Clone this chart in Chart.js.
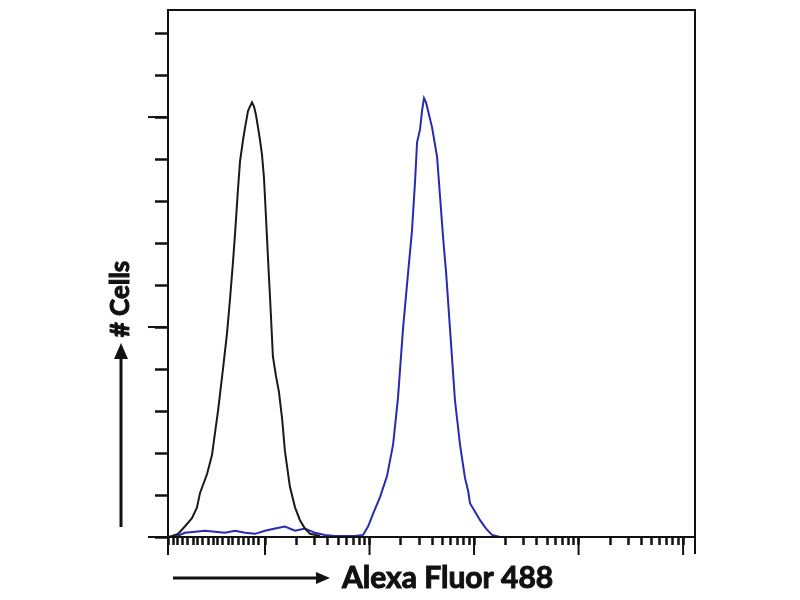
<!DOCTYPE html>
<html>
<head>
<meta charset="utf-8">
<script src="https://cdn.jsdelivr.net/npm/chart.js@4/dist/chart.umd.min.js"></script>
<style>
  body { margin: 0; background: #fff; }
  canvas { display: block; }
</style>
</head>
<body>
<canvas id="histo" width="800" height="600"></canvas>
<script>
'use strict'

// Control (black) histogram, fluorescence vs count
let controlX = [1.18, 1.29, 1.47, 1.71, 2.0, 2.23, 2.39, 2.79, 3.11, 3.33, 3.55, 3.96, 4.33, 4.62, 4.94, 5.16, 5.52, 5.77, 6.16, 6.44, 6.88, 7.18, 7.51, 7.85, 8.20, 8.58, 8.96, 9.36, 9.78, 10.2, 10.7, 11.2, 11.9, 12.7, 13.6, 14.6, 15.5, 17.3, 19.4, 21.6, 24.1, 27.0, 33.6]
let controlCounts = [0, 0.5, 1.5, 5, 9, 14, 21, 30, 39, 50, 60, 80, 97, 113, 131, 144, 166, 179, 189, 195, 203, 205, 207, 205, 201, 195, 189, 182, 171, 153, 132, 113, 86, 77, 69, 56, 41, 24, 14, 8, 4, 1.5, 0.5]

// Stained (blue) histogram
let stainedX = [1.38, 1.71, 2.14, 2.67, 3.33, 4.14, 5.16, 6.44, 8.02, 10, 12.5, 15.5, 19.4, 24.1, 30.1, 37.5, 46.8, 58.3, 72.7, 86.7, 96.8, 108, 126, 147, 168, 187, 209, 234, 255, 273, 285, 304, 318, 332, 347, 363, 397, 443, 473, 505, 540, 589, 657, 734, 820, 877, 916, 1023, 1141, 1303, 1486, 1775]
let stainedCounts = [0, 2, 2.5, 3, 2.5, 2, 3, 2, 1.5, 3, 4, 5, 3, 4, 2, 1, 0.5, 0.5, 0.5, 1, 5, 11, 19, 29, 44, 66, 99, 126, 146, 170, 188, 194, 203, 209, 207, 203, 195, 181, 162, 143, 126, 99, 65, 44, 28, 22, 16, 12, 8, 4, 1, 0]

// Axis ranges and tick marks
let xMin = 1.18
let xMax = 130000
let yMax = 251
let xMajorTicks = [1.18, 10, 100, 1000, 10000, 100000]
let xMinorTicks = [1.32, 1.47, 1.64, 1.83, 2.05, 2.28, 2.55, 2.85, 3.18, 3.55, 3.96, 4.43, 4.94, 5.52, 6.16, 6.88, 7.68, 8.58,
    20, 30, 40, 50, 60, 70, 80, 90,
    200, 300, 400, 500, 600, 700, 800, 900,
    2000, 3000, 4000, 5000, 6000, 7000, 8000, 9000,
    20000, 30000, 40000, 50000, 60000, 70000, 80000, 90000]
let yTicks = [0, 20, 40, 60, 80, 100, 120, 140, 160, 180, 200, 220, 240]
let yMajorTicks = [0, 100, 200]

let xTitle = 'Alexa Fluor 488'
let yTitle = '# Cells'

let ctx = document.getElementById('histo').getContext('2d')

function toPoints(xs, ys){
    return xs.map((x, i) => ({x: x, y: ys[i]}))
}

function arrowRight(c, x1, x2, y){
    c.beginPath()
    c.moveTo(x1, y)
    c.lineTo(x2 - 12, y)
    c.stroke()
    c.beginPath()
    c.moveTo(x2, y)
    c.lineTo(x2 - 14, y - 6)
    c.lineTo(x2 - 14, y + 6)
    c.closePath()
    c.fill()
}

function arrowUp(c, x, y1, y2){
    c.beginPath()
    c.moveTo(x, y1)
    c.lineTo(x, y2 + 12)
    c.stroke()
    c.beginPath()
    c.moveTo(x, y2)
    c.lineTo(x - 7, y2 + 16)
    c.lineTo(x + 7, y2 + 16)
    c.closePath()
    c.fill()
}

// frame, long ticks and axis titles
let decorPlugin = {
    id: 'decor',
    afterDraw(chart){
        let c = chart.ctx
        let area = chart.chartArea
        let xs = chart.scales.x
        let ys = chart.scales.y
        c.save()
        c.strokeStyle = '#111'
        c.fillStyle = '#111'
        c.lineWidth = 2
        c.strokeRect(area.left, area.top, area.right - area.left, area.bottom - area.top)
        // right edge runs below the axis
        c.beginPath()
        c.moveTo(area.right, area.bottom)
        c.lineTo(area.right, area.bottom + 17)
        c.stroke()
        for (let v of xMajorTicks){
            let px = xs.getPixelForValue(v)
            c.beginPath()
            c.moveTo(px, area.bottom)
            c.lineTo(px, area.bottom + 18)
            c.stroke()
        }
        for (let v of yMajorTicks){
            let py = ys.getPixelForValue(v)
            c.beginPath()
            c.moveTo(area.left - 20, py)
            c.lineTo(area.left, py)
            c.stroke()
        }

        // axis titles with arrows
        c.lineWidth = 3
        arrowRight(c, 173, 330, 578)
        c.font = 'bold 30px Lato'
        c.textBaseline = 'alphabetic'
        c.textAlign = 'left'
        c.lineWidth = 1
        c.fillText(xTitle, 342, 588)
        c.strokeText(xTitle, 342, 588)

        c.lineWidth = 3
        arrowUp(c, 121, 527, 343)
        c.save()
        c.translate(129, 299)
        c.rotate(-Math.PI / 2)
        c.textAlign = 'center'
        c.font = 'bold 26px Lato'
        c.lineWidth = 1
        c.fillText(yTitle, 0, 0)
        c.strokeText(yTitle, 0, 0)
        c.restore()
        c.restore()
    }
}

let histoChart = new Chart(ctx, {
    type: 'line',
    data: {
        datasets: [{
            label: 'Control',
            data: toPoints(controlX, controlCounts),
            borderColor: '#1a1a1a',
            borderWidth: 2,
            pointRadius: 0,
            tension: 0,
            fill: false
        }, {
            label: 'Alexa Fluor 488',
            data: toPoints(stainedX, stainedCounts),
            borderColor: '#2a2ab0',
            borderWidth: 2,
            pointRadius: 0,
            tension: 0,
            fill: false
        }]
    },
    options: {
        responsive: false,
        animation: false,
        layout: {
            padding: {left: 168, right: 105, top: 10, bottom: 63}
        },
        plugins: {
            legend: {display: false},
            tooltip: {enabled: false}
        },
        scales: {
            x: {
                type: 'logarithmic',
                position: 'bottom',
                min: xMin,
                max: xMax,
                bounds: 'data',
                afterBuildTicks: (scale) => {
                    scale.ticks = xMinorTicks.concat(xMajorTicks).map(v => ({value: v}))
                },
                afterFit: (scale) => { scale.height = 0 },
                ticks: {display: false},
                grid: {
                    display: true,
                    drawOnChartArea: false,
                    drawTicks: true,
                    tickLength: 8,
                    tickWidth: 2.5,
                    tickColor: '#111'
                },
                border: {display: true, color: '#111', width: 2}
            },
            y: {
                type: 'linear',
                position: 'left',
                min: 0,
                max: yMax,
                bounds: 'data',
                afterBuildTicks: (scale) => {
                    scale.ticks = yTicks.map(v => ({value: v}))
                },
                afterFit: (scale) => { scale.width = 0 },
                ticks: {display: false},
                grid: {
                    display: true,
                    drawOnChartArea: false,
                    drawTicks: true,
                    tickLength: 13,
                    tickWidth: 2.5,
                    tickColor: '#111'
                },
                border: {display: true, color: '#111', width: 2}
            }
        }
    },
    plugins: [decorPlugin]
})
</script>
</body>
</html>
